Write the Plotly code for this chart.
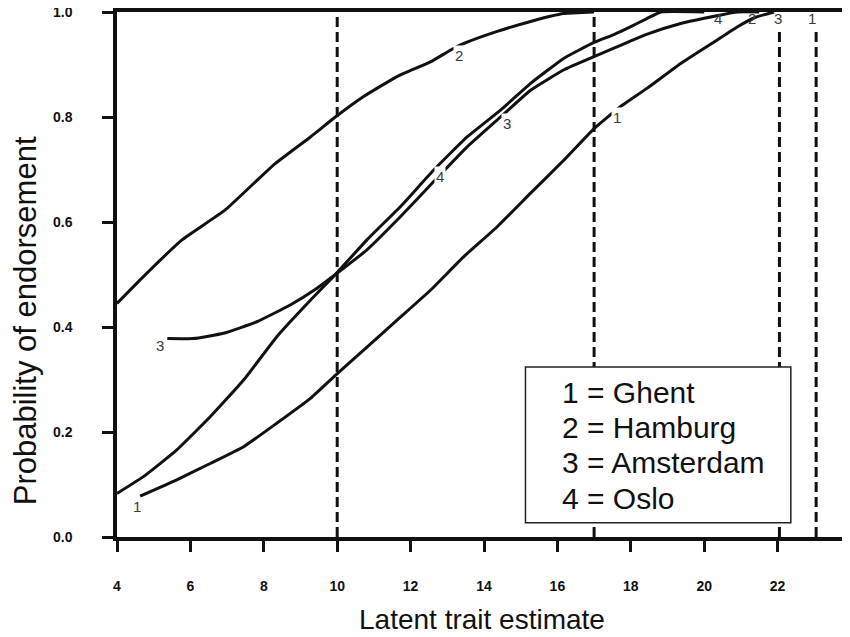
import plotly.graph_objects as go

# ---- data ----
ghent_x = [4.63, 5.63, 6.54, 7.45, 8.36, 9.27, 9.95, 10.72, 11.63, 12.54, 13.45, 14.36, 15.27, 16.18, 17.0, 17.72, 18.45, 19.36, 20.27, 20.91, 21.4, 21.9]
ghent_y = [0.078, 0.109, 0.140, 0.172, 0.217, 0.264, 0.308, 0.356, 0.413, 0.470, 0.534, 0.591, 0.655, 0.718, 0.778, 0.82, 0.855, 0.902, 0.943, 0.972, 0.99, 1.0]

hamburg_x = [4.0, 4.72, 5.77, 6.95, 8.27, 9.27, 9.95, 10.72, 11.63, 12.54, 13.13, 13.45, 14.36, 15.27, 16.17, 17.0]
hamburg_y = [0.445, 0.496, 0.566, 0.623, 0.709, 0.762, 0.80, 0.839, 0.877, 0.905, 0.929, 0.940, 0.963, 0.982, 0.997, 1.0]

amsterdam_x = [5.37, 6.08, 6.9, 7.81, 8.72, 9.45, 9.95, 10.81, 11.72, 12.63, 13.54, 14.45, 15.27, 16.18, 17.0, 17.54, 18.0, 18.45, 19.36, 20.0, 20.9, 21.5]
amsterdam_y = [0.378, 0.378, 0.388, 0.41, 0.442, 0.474, 0.50, 0.547, 0.61, 0.677, 0.743, 0.80, 0.851, 0.89, 0.915, 0.931, 0.945, 0.958, 0.978, 0.988, 1.0, 1.0]

oslo_x = [4.0, 4.72, 5.63, 6.54, 7.45, 8.36, 9.27, 9.95, 10.81, 11.72, 12.63, 13.54, 14.45, 15.27, 16.18, 17.0, 17.54, 18.0, 18.45, 18.82, 20.0]
oslo_y = [0.083, 0.115, 0.166, 0.229, 0.299, 0.382, 0.451, 0.50, 0.566, 0.629, 0.699, 0.762, 0.813, 0.864, 0.912, 0.942, 0.957, 0.972, 0.988, 1.0, 1.0]

cutoff_x = [10.0, 17.0, 22.05, 23.05]
cutoff_top = [1.0, 1.0, 0.965, 0.965]

# curve number labels: (text, x, y, white background)
curve_labels = [
    ("3", 5.17, 0.364, False),
    ("1", 4.54, 0.058, False),
    ("2", 13.31, 0.918, True),
    ("3", 14.63, 0.788, True),
    ("1", 17.63, 0.799, True),
    ("4", 12.81, 0.686, True),
    ("4", 20.37, 0.987, False),
    ("2", 21.30, 0.988, False),
    ("3", 22.02, 0.987, False),
    ("1", 22.94, 0.988, False),
]

legend_lines = ["1 = Ghent", "2 = Hamburg", "3 = Amsterdam", "4 = Oslo"]
legend_y = [0.276, 0.208, 0.141, 0.074]

x_ticks = [4, 6, 8, 10, 12, 14, 16, 18, 20, 22, 24]
y_ticks = [0.0, 0.2, 0.4, 0.6, 0.8, 1.0]

FONT = "Liberation Sans, Arial, sans-serif"
INK = "#111111"

fig = go.Figure()

for cx, ct in zip(cutoff_x, cutoff_top):
    fig.add_trace(go.Scatter(x=[cx, cx], y=[0, ct], mode="lines",
                             line=dict(color=INK, width=3, dash="10px,5px"),
                             showlegend=False, hoverinfo="skip", cliponaxis=False))

for xs, ys in [(ghent_x, ghent_y), (hamburg_x, hamburg_y),
               (amsterdam_x, amsterdam_y), (oslo_x, oslo_y)]:
    fig.add_trace(go.Scatter(x=xs, y=ys, mode="lines",
                             line=dict(color=INK, width=3, shape="spline", smoothing=0.4),
                             showlegend=False, hoverinfo="skip"))

annotations = []
for t, ax, ay, bg in curve_labels:
    annotations.append(dict(x=ax, y=ay, xref="x", yref="y", text=t, showarrow=False,
                            font=dict(family=FONT, size=15, color="#3a3a3a"),
                            bgcolor="white" if bg else "rgba(0,0,0,0)", borderpad=1))

for t, ly in zip(legend_lines, legend_y):
    annotations.append(dict(x=16.06, y=ly, xref="x", yref="y", text=t, showarrow=False,
                            xanchor="left", yanchor="middle",
                            font=dict(family=FONT, size=30, color=INK)))

annotations.append(dict(x=0.497, y=-0.158, xref="paper", yref="paper",
                        text="Latent trait estimate", showarrow=False,
                        xanchor="center", yanchor="middle",
                        font=dict(family=FONT, size=28, color=INK)))
annotations.append(dict(x=-0.1253, y=0.411, xref="paper", yref="paper",
                        text="Probability of endorsement", showarrow=False,
                        textangle=-90, xanchor="center", yanchor="middle",
                        font=dict(family=FONT, size=31, color=INK)))

# the page body adds an 8px offset, so the figure is 8px smaller and margins shifted
fig.update_layout(
    width=843, height=629,
    margin=dict(l=109, r=0, t=4, b=100, autoexpand=False),
    paper_bgcolor="white", plot_bgcolor="white",
    showlegend=False,
    annotations=annotations,
    shapes=[dict(type="rect", xref="x", yref="y", x0=15.13, x1=22.36, y0=0.027, y1=0.324,
                 line=dict(color="#222222", width=1.5), fillcolor="white", layer="above")],
    xaxis=dict(range=[4, 24], tickvals=x_ticks, ticktext=[str(v) for v in x_ticks],
               automargin=False, ticklabeloverflow="allow",
               showgrid=False, zeroline=False,
               showline=True, linewidth=3.5, linecolor=INK, mirror=True,
               ticks="outside", ticklen=11, tickwidth=3, tickcolor=INK,
               ticklabelstandoff=22,
               tickfont=dict(family=FONT, size=14, color=INK, weight="bold")),
    yaxis=dict(range=[0, 1], tickvals=y_ticks, ticktext=["%.1f" % v for v in y_ticks],
               automargin=False, ticklabeloverflow="allow",
               showgrid=False, zeroline=False,
               showline=True, linewidth=3.5, linecolor=INK,
               ticks="outside", ticklen=11, tickwidth=3, tickcolor=INK,
               ticklabelstandoff=27,
               tickfont=dict(family=FONT, size=14, color=INK, weight="bold")),
)

fig.write_html("out.html")
